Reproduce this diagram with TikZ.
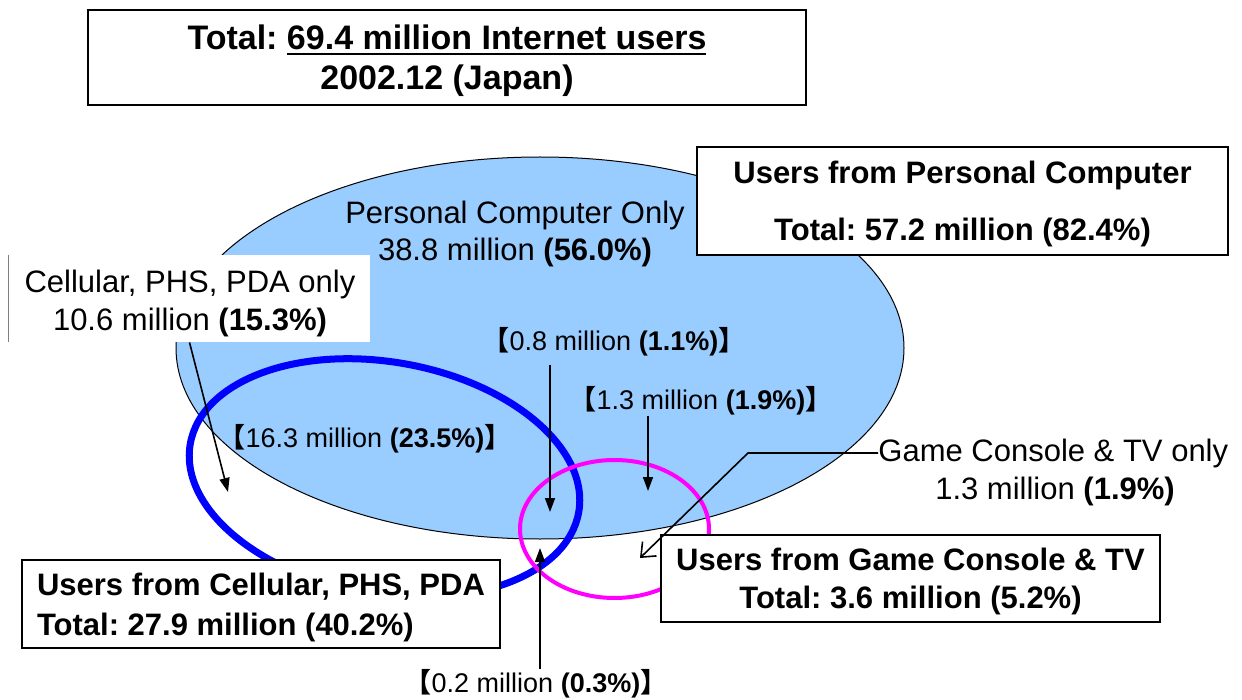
\documentclass[tikz,border=0pt]{standalone}
\usepackage{fontspec}
\setmainfont{Liberation Sans}
\newfontfamily\cjk{Noto Sans CJK JP}
\usetikzlibrary{arrows.meta,calc}

\definecolor{pcblue}{HTML}{99CCFF}
\definecolor{cellblue}{HTML}{0000FF}
\definecolor{gamemag}{HTML}{FF00FF}

\newcommand{\lbk}{{\cjk\bfseries 【}}
\newcommand{\rbk}{{\cjk\bfseries 】}}
\newcommand{\thickul}[1]{\setbox0\hbox{#1}\rlap{\rule[-2.8pt]{\wd0}{1pt}}\box0}
\frenchspacing

\begin{document}
\begin{tikzpicture}[x=0.5pt,y=-0.5pt,
  boxlabel/.style={draw=black, line width=0.75pt, fill=white, align=center, inner sep=0pt},
  region/.style={font=\fontsize{15.5}{18.75}\selectfont, align=center, inner sep=0pt},
  bracket/.style={font=\fontsize{13.5}{15}\selectfont, inner sep=0pt},
  ptr/.style={line width=0.8pt, -{Triangle[length=7pt,width=5pt]}},
  openptr/.style={line width=0.8pt, -{Straight Barb[length=6pt,width=10pt]}},
]
\useasboundingbox (0,0) rectangle (1242,700);
\fill[white] (0,0) rectangle (1242,700);

% Personal computer ellipse
\draw[fill=pcblue, line width=0.5pt] (540,348) ellipse [x radius=182pt, y radius=95.5pt];

% white label area for cellular-only text
\node[fill=white, minimum width=180.5pt, minimum height=43.5pt, inner sep=0pt] (cellonlybox) at (189.5,298.5) {};
\draw[gray, line width=0.5pt] (cellonlybox.north west) -- (cellonlybox.south west);

% cellular ellipse
\draw[cellblue, line width=3.5pt, rotate around={-10:(384.5,478)}] (384.5,478) ellipse [x radius=98.6pt, y radius=58pt];

% game console ellipse
\draw[gamemag, line width=2pt] (614.5,529) ellipse [x radius=47.25pt, y radius=34.5pt];

% boxes
\node[boxlabel, minimum width=359pt, minimum height=47.5pt, text depth=0pt, font=\fontsize{17}{20}\selectfont\bfseries] (title) at (447,57.5)
  {Total: \thickul{69.4 million Internet users}\\2002.12 (Japan)};
\node[boxlabel, minimum width=265.5pt, minimum height=54pt, text depth=0pt, font=\fontsize{15.5}{28.5}\selectfont\bfseries] (pcbox) at (962.5,201)
  {Users from Personal Computer\\Total: 57.2 million (82.4\%)};
\node[boxlabel, align=left, minimum width=239pt, minimum height=44pt, text depth=0pt, font=\fontsize{15.5}{20}\selectfont\bfseries] (cellbox) at (261,604)
  {Users from Cellular, PHS, PDA\\Total: 27.9 million (40.2\%)};
\node[boxlabel, minimum width=249.5pt, minimum height=43.5pt, text depth=0pt, font=\fontsize{15.5}{19}\selectfont\bfseries] (gamebox) at (910.5,578.5)
  {Users from Game Console \& TV\\Total: 3.6 million (5.2\%)};

% region labels
\node[region] (pconly) at (515,234) {Personal Computer Only\\38.8 million \textbf{(56.0\%)}};
\node[region] (cellonly) at (190,303.5) {Cellular, PHS, PDA only\\10.6 million \textbf{(15.3\%)}};
\node[region, anchor=west] (gameonly) at (878,453) {Game Console \& TV only};
\node[region] (gameonlyv) at (1055,491) {1.3 million \textbf{(1.9\%)}};

% bracket labels
\node[bracket] (b08) at (614,342) {\lbk 0.8 million \textbf{(1.1\%)}\rbk};
\node[bracket] (b13) at (701,401) {\lbk 1.3 million \textbf{(1.9\%)}\rbk};
\node[bracket] (b163) at (365,439) {\lbk 16.3 million \textbf{(23.5\%)}\rbk};
\node[bracket] (b02) at (536,684) {\lbk 0.2 million \textbf{(0.3\%)}\rbk};

% arrow targets
\coordinate (tcell) at (228,492);
\coordinate (t08) at (550,512);
\coordinate (t13) at (648,491);
\coordinate (t02) at (540,548);
\coordinate (tgame) at (640,558);
\coordinate (gbend) at (748,452);

% arrows
\draw[ptr] (cellonlybox.south) -- (tcell);
\draw[ptr] ($(b08.south -| t08)+(0,8)$) -- (t08);
\draw[ptr] (b13.south -| t13) -- (t13);
\draw[ptr] (b02.north -| t02) -- (t02);
\draw[openptr] (gameonly.west) -- (gameonly.west -| gbend) -- (tgame);
\end{tikzpicture}
\end{document}
